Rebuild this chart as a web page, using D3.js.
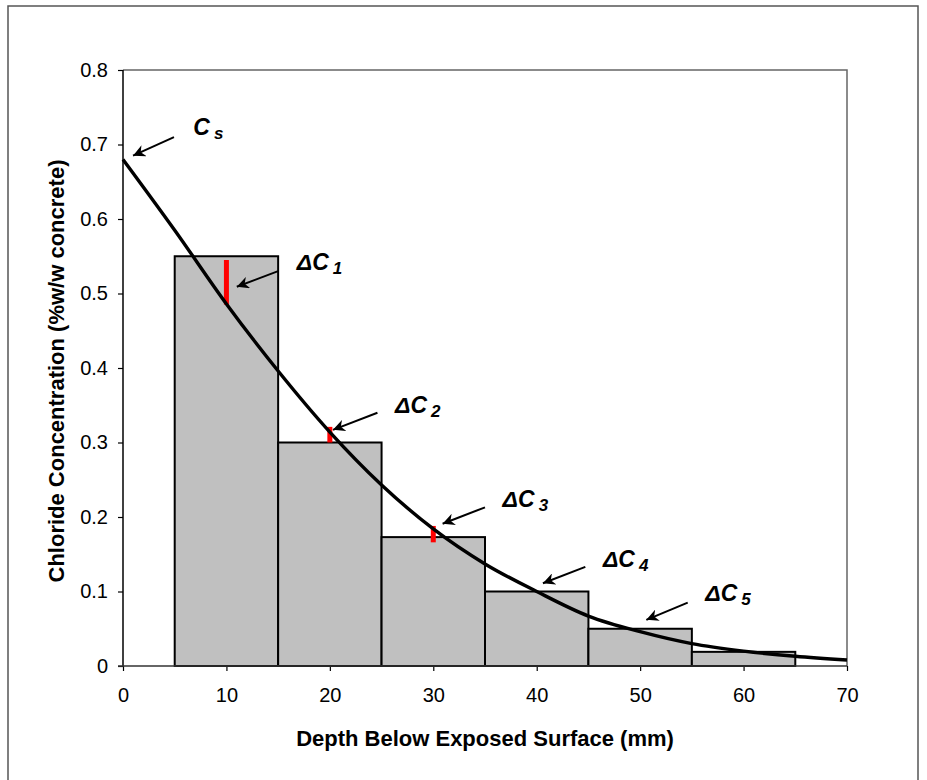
<!DOCTYPE html>
<html>
<head>
<meta charset="utf-8">
<script src="https://cdn.jsdelivr.net/npm/d3@7/dist/d3.min.js"></script>
<style>
  body { margin: 0; background: #fff; }
  svg { font-family: "Liberation Sans", Arial, sans-serif; }
</style>
</head>
<body>
<div id="chart"></div>
<script>
// bins of the sampled profile (mm) and their mean chloride content
const binEdges = [5, 15, 25, 35, 45, 55, 65];
const binValues = [0.55, 0.30, 0.173, 0.10, 0.05, 0.019];

// fitted diffusion curve
const curveDepth = [0, 5, 10, 15, 20, 25, 30, 35, 40, 45, 50, 55, 60, 65, 70];
const curveConc = [0.68, 0.585, 0.486, 0.396, 0.314, 0.243, 0.184, 0.137, 0.100, 0.067, 0.046, 0.030, 0.020, 0.013, 0.008];

// red difference markers
const deltaDepth = [10, 20, 30];
const deltaLow = [0.485, 0.300, 0.166];
const deltaHigh = [0.545, 0.321, 0.188];

const xTicks = [0, 10, 20, 30, 40, 50, 60, 70];
const yTicks = [0, 0.1, 0.2, 0.3, 0.4, 0.5, 0.6, 0.7, 0.8];

// annotation labels: [main, subscript, labelX, labelY, tailX, tailY, tipX, tipY] in data units
const notes = [
  ["C", "s", 6.8, 0.713, 4.93, 0.710, 0.97, 0.685],
  ["\u0394C", "1", 16.8, 0.532, 15.0, 0.530, 11.0, 0.509],
  ["\u0394C", "2", 26.3, 0.340, 24.6, 0.340, 20.3, 0.317],
  ["\u0394C", "3", 36.7, 0.213, 35.0, 0.213, 30.9, 0.191],
  ["\u0394C", "4", 46.4, 0.133, 44.7, 0.133, 40.6, 0.111],
  ["\u0394C", "5", 56.3, 0.087, 54.6, 0.085, 50.6, 0.062]
];

const width = 927;
const height = 780;
const m = { left: 123, right: 847, top: 70, bottom: 666 };

const svg = d3.select("#chart")
  .append("svg")
  .attr("width", width)
  .attr("height", height);

// outer frame
svg.append("rect")
  .attr("x", 8).attr("y", 6)
  .attr("width", 910).attr("height", 800)
  .attr("fill", "none")
  .attr("stroke", "#555")
  .attr("stroke-width", 1.5);

const x = d3.scaleLinear().domain([0, 70]).range([m.left, m.right]);
const y = d3.scaleLinear().domain([0, 0.8]).range([m.bottom, m.top]);

// plot area border (top + right)
svg.append("path")
  .attr("d", `M${m.left},${m.top}H${m.right}V${m.bottom}`)
  .attr("fill", "none")
  .attr("stroke", "#666")
  .attr("stroke-width", 1.5);

// bars
svg.append("g")
  .selectAll("rect")
  .data(binValues)
  .enter()
  .append("rect")
  .attr("x", (d, i) => x(binEdges[i]))
  .attr("width", (d, i) => x(binEdges[i + 1]) - x(binEdges[i]))
  .attr("y", d => y(d))
  .attr("height", d => y(0) - y(d))
  .attr("fill", "#c0c0c0")
  .attr("stroke", "#000")
  .attr("stroke-width", 2);

// axes
const yAxis = d3.axisLeft(y)
  .tickValues(yTicks)
  .tickSize(5)
  .tickPadding(10)
  .tickFormat(d => d === 0 ? "0" : d3.format(".1f")(d));
const gy = svg.append("g").attr("transform", `translate(${m.left},0)`).call(yAxis);

const xAxis = d3.axisBottom(x)
  .tickValues(xTicks)
  .tickSize(5)
  .tickPadding(17)
  .tickFormat(d3.format("d"));
const gx = svg.append("g").attr("transform", `translate(0,${m.bottom})`).call(xAxis);

[gx, gy].forEach(g => {
  g.select(".domain").remove();
  g.selectAll(".tick line").attr("stroke", "#000").attr("stroke-width", 1.2);
  g.selectAll(".tick text")
    .attr("fill", "#000")
    .style("font-size", "20px")
    .style("font-family", "'Liberation Sans', Arial, sans-serif");
});

svg.append("line")
  .attr("x1", m.left).attr("x2", m.left)
  .attr("y1", m.top).attr("y2", m.bottom)
  .attr("stroke", "#000").attr("stroke-width", 1.5);
svg.append("line")
  .attr("x1", m.left - 5).attr("x2", m.right)
  .attr("y1", m.bottom).attr("y2", m.bottom)
  .attr("stroke", "#333").attr("stroke-width", 1.5);

// red difference markers
svg.append("g")
  .selectAll("line")
  .data(deltaDepth)
  .enter()
  .append("line")
  .attr("x1", d => x(d)).attr("x2", d => x(d))
  .attr("y1", (d, i) => y(deltaLow[i]))
  .attr("y2", (d, i) => y(deltaHigh[i]))
  .attr("stroke", "#ff0000")
  .attr("stroke-width", 5);

// curve
const line = d3.line()
  .x((d, i) => x(curveDepth[i]))
  .y(d => y(d))
  .curve(d3.curveMonotoneX);

svg.append("path")
  .datum(curveConc)
  .attr("d", line)
  .attr("fill", "none")
  .attr("stroke", "#000")
  .attr("stroke-width", 3.4);

// arrows
svg.append("defs").append("marker")
  .attr("id", "arrow")
  .attr("viewBox", "0 0 10 10")
  .attr("refX", 10).attr("refY", 5)
  .attr("markerWidth", 6).attr("markerHeight", 6)
  .attr("markerUnits", "strokeWidth")
  .attr("orient", "auto")
  .append("path")
  .attr("d", "M0,0L10,5L0,10L3,5Z")
  .attr("fill", "#000");

const ann = svg.append("g")
  .selectAll("g")
  .data(notes)
  .enter()
  .append("g");

ann.append("line")
  .attr("x1", d => x(d[4])).attr("y1", d => y(d[5]))
  .attr("x2", d => x(d[6])).attr("y2", d => y(d[7]))
  .attr("stroke", "#000")
  .attr("stroke-width", 2)
  .attr("marker-end", "url(#arrow)");

const t = ann.append("text")
  .attr("x", d => x(d[2]))
  .attr("y", d => y(d[3]))
  .attr("fill", "#000")
  .style("font-weight", "bold")
  .style("font-style", "italic")
  .style("font-size", "23px");
t.append("tspan").text(d => d[0]);
t.append("tspan")
  .attr("dx", 4)
  .attr("dy", 4)
  .style("font-size", "17px")
  .text(d => d[1]);

// axis titles
svg.append("text")
  .attr("x", 485)
  .attr("y", 746)
  .attr("text-anchor", "middle")
  .style("font-weight", "bold")
  .style("font-size", "22px")
  .text("Depth Below Exposed Surface (mm)");

svg.append("text")
  .attr("transform", "translate(64,371) rotate(-90)")
  .attr("text-anchor", "middle")
  .style("font-weight", "bold")
  .style("font-size", "22px")
  .text("Chloride Concentration (%w/w concrete)");
</script>
</body>
</html>
